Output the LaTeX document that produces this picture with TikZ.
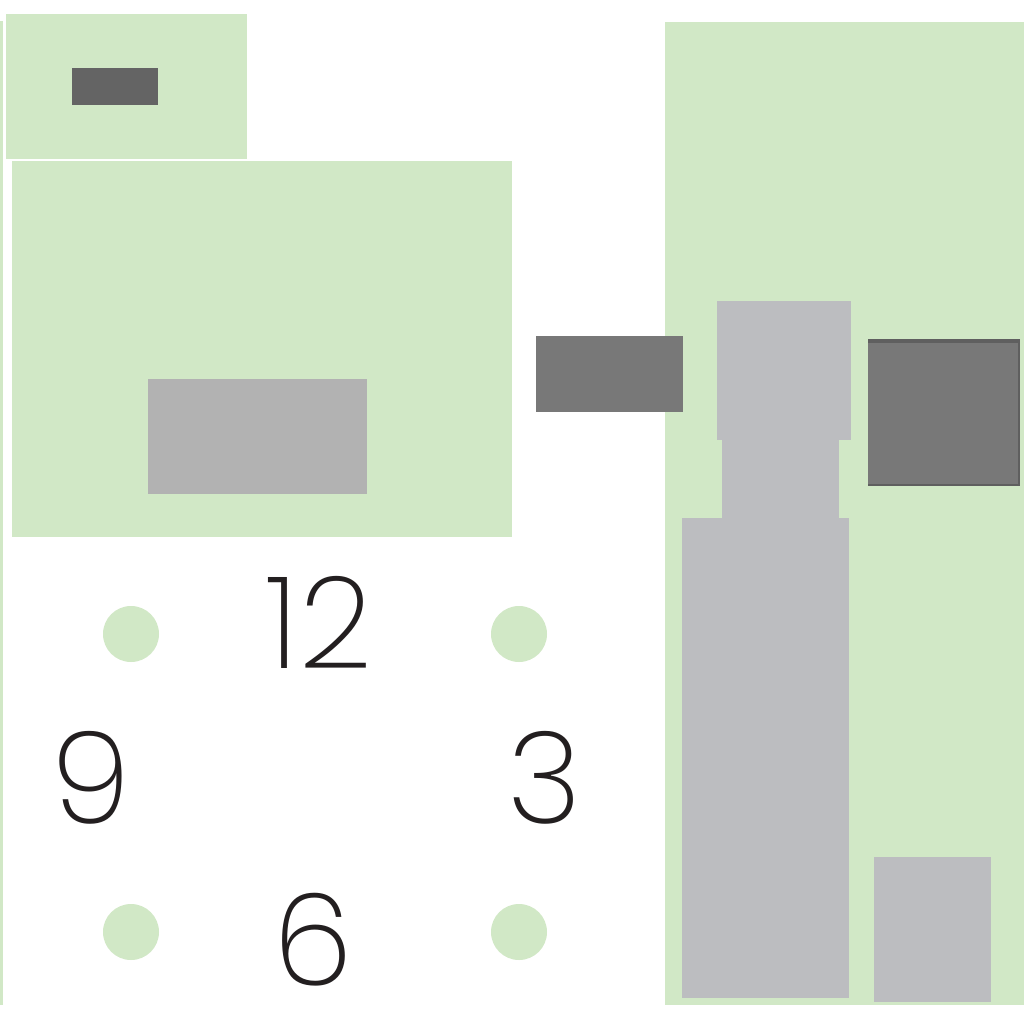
\documentclass[tikz,border=0pt]{standalone}
\usepackage{fontspec}
\setmainfont{Poppins}
\newfontfamily\thindigits{Poppins ExtraLight}
\definecolor{lgreen}{RGB}{209,232,198}
\definecolor{darkA}{RGB}{100,100,100}
\definecolor{darkB}{RGB}{120,120,120}
\definecolor{darkE}{RGB}{95,95,95}
\definecolor{midgray}{RGB}{178,178,178}
\definecolor{bluegray}{RGB}{188,189,192}
\definecolor{digit}{RGB}{35,31,32}
\tikzset{
  digitlbl/.style={inner sep=0pt, anchor=base, text=digit, font=\thindigits\fontsize{128}{128}\selectfont},
  dot/.style={circle, fill=lgreen, minimum size=56pt, inner sep=0pt}
}
\begin{document}
\begin{tikzpicture}[x=1pt,y=-1pt]
\useasboundingbox (0,0) rectangle (1024,1024);
\fill[white] (0,0) rectangle (1024,1024);
% left thin strip
\fill[lgreen] (0,21) rectangle (3,1005);
% top-left box
\fill[lgreen] (6,14) rectangle (247,159);
\fill[darkA] (72,68) rectangle (158,105);
% main left box
\fill[lgreen] (12,161) rectangle (512,537);
\fill[midgray] (148,379) rectangle (367,494);
% right panel
\fill[lgreen] (665,22) rectangle (1024,1005);
\fill[bluegray] (717,301) rectangle (851,440);
\fill[bluegray] (722,439) rectangle (839,519);
\fill[bluegray] (682,518) rectangle (849,998);
\fill[bluegray] (874,857) rectangle (991,1002);
\fill[darkE] (868,339) rectangle (1020,486);
\fill[darkB] (868,343) rectangle (1018,484);
% middle dark box
\fill[darkB] (536,336) rectangle (683,412);
% dots
\node[dot] (d1) at (131,634) {};
\node[dot] (d2) at (519,634) {};
\node[dot] (d3) at (131,932) {};
\node[dot] (d4) at (519,932) {};
% digits
\node[digitlbl] (n12) at (319,668) {12};
\node[digitlbl] (n9) at (91,823) {9};
\node[digitlbl] (n3) at (545,823) {3};
\node[digitlbl] (n6) at (313,985) {6};
\end{tikzpicture}
\end{document}
